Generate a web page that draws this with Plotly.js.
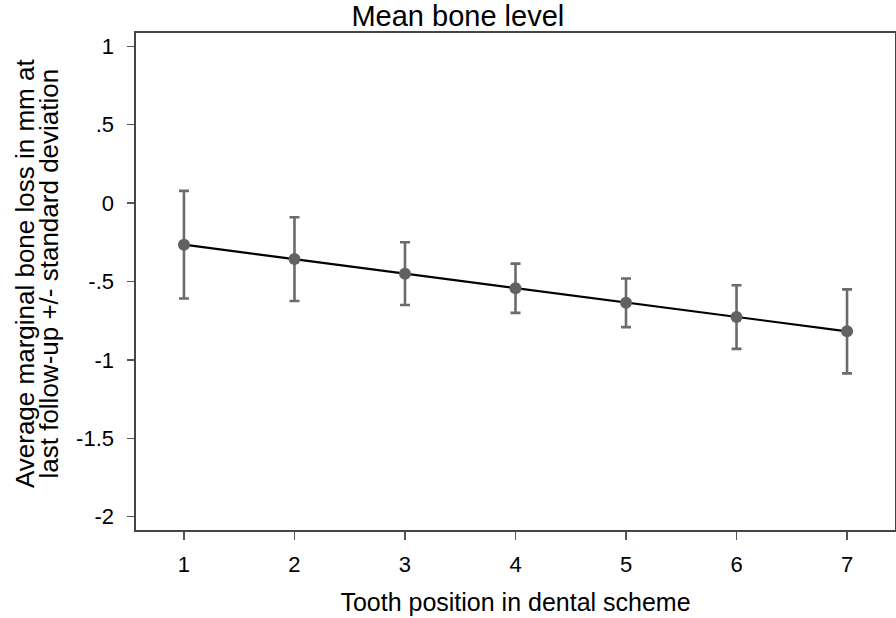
<!DOCTYPE html>
<html>
<head>
<meta charset="utf-8">
<script src="https://cdn.plot.ly/plotly-3.0.1.min.js"></script>
<style>
html, body { margin: 0; padding: 0; background: #fff; }
#chart { width: 896px; height: 618px; }
</style>
</head>
<body>
<div id="chart"></div>
<script>
// Data
const toothPositions = [1, 2, 3, 4, 5, 6, 7];
const meanBoneLoss = [-0.265, -0.357, -0.450, -0.543, -0.636, -0.727, -0.818];
const stdDeviation = [0.343, 0.267, 0.200, 0.157, 0.155, 0.203, 0.268];
const yTickValues = [1, 0.5, 0, -0.5, -1, -1.5, -2];
const yTickLabels = ['1', '.5', '0', '-.5', '-1', '-1.5', '-2'];
const xTickValues = [1, 2, 3, 4, 5, 6, 7];
const xTickLabels = ['1', '2', '3', '4', '5', '6', '7'];

const FONT = 'Liberation Sans, Arial, sans-serif';
const GREY = '#626262';

const traces = [
  {
    x: toothPositions,
    y: meanBoneLoss,
    type: 'scatter',
    mode: 'lines',
    line: { color: '#000000', width: 2.2 },
    error_y: {
      type: 'data',
      array: stdDeviation,
      visible: true,
      color: '#6b6b6b',
      thickness: 2.6,
      width: 5
    },
    hoverinfo: 'skip',
    showlegend: false
  },
  {
    x: toothPositions,
    y: meanBoneLoss,
    type: 'scatter',
    mode: 'markers',
    marker: { color: GREY, size: 12 },
    showlegend: false
  }
];

const layout = {
  width: 896,
  height: 618,
  margin: { l: 136, r: 1, t: 33, b: 88 },
  paper_bgcolor: '#ffffff',
  plot_bgcolor: '#ffffff',
  font: { family: FONT, color: '#000000' },
  title: {
    text: 'Mean bone level',
    font: { family: FONT, size: 29, color: '#000000' },
    xref: 'container',
    x: 0.511, xanchor: 'center',
    yref: 'container',
    y: 0.975, yanchor: 'middle'
  },
  xaxis: {
    range: [0.566, 7.434],
    tickmode: 'array',
    tickvals: xTickValues,
    ticktext: xTickLabels,
    ticks: 'outside',
    ticklen: 8,
    tickwidth: 1.5,
    tickcolor: '#555555',
    tickfont: { family: FONT, size: 22, color: '#000000' },
    ticklabelstandoff: 6,
    showgrid: false,
    zeroline: false,
    showline: true,
    linecolor: '#444444',
    linewidth: 1.6,
    mirror: true,
    title: {
      text: 'Tooth position in dental scheme',
      font: { family: FONT, size: 25, color: '#000000' },
      standoff: 17
    }
  },
  yaxis: {
    range: [-2.085, 1.085],
    tickmode: 'array',
    tickvals: yTickValues,
    ticktext: yTickLabels,
    ticks: 'outside',
    ticklen: 7,
    tickwidth: 1.5,
    tickcolor: '#555555',
    tickfont: { family: FONT, size: 22, color: '#000000' },
    ticklabelstandoff: 9,
    showgrid: false,
    zeroline: false,
    showline: true,
    linecolor: '#444444',
    linewidth: 1.6,
    mirror: true
  },
  annotations: [
    {
      text: 'Average marginal bone loss in mm at',
      xref: 'paper', yref: 'paper',
      x: -0.1462, y: 0.517,
      xanchor: 'center', yanchor: 'middle',
      textangle: -90, showarrow: false,
      font: { family: FONT, size: 26, color: '#000000' }
    },
    {
      text: 'last follow-up +/- standard deviation',
      xref: 'paper', yref: 'paper',
      x: -0.1140, y: 0.517,
      xanchor: 'center', yanchor: 'middle',
      textangle: -90, showarrow: false,
      font: { family: FONT, size: 26, color: '#000000' }
    }
  ]
};

Plotly.newPlot('chart', traces, layout, { displayModeBar: false, staticPlot: true });
</script>
</body>
</html>
